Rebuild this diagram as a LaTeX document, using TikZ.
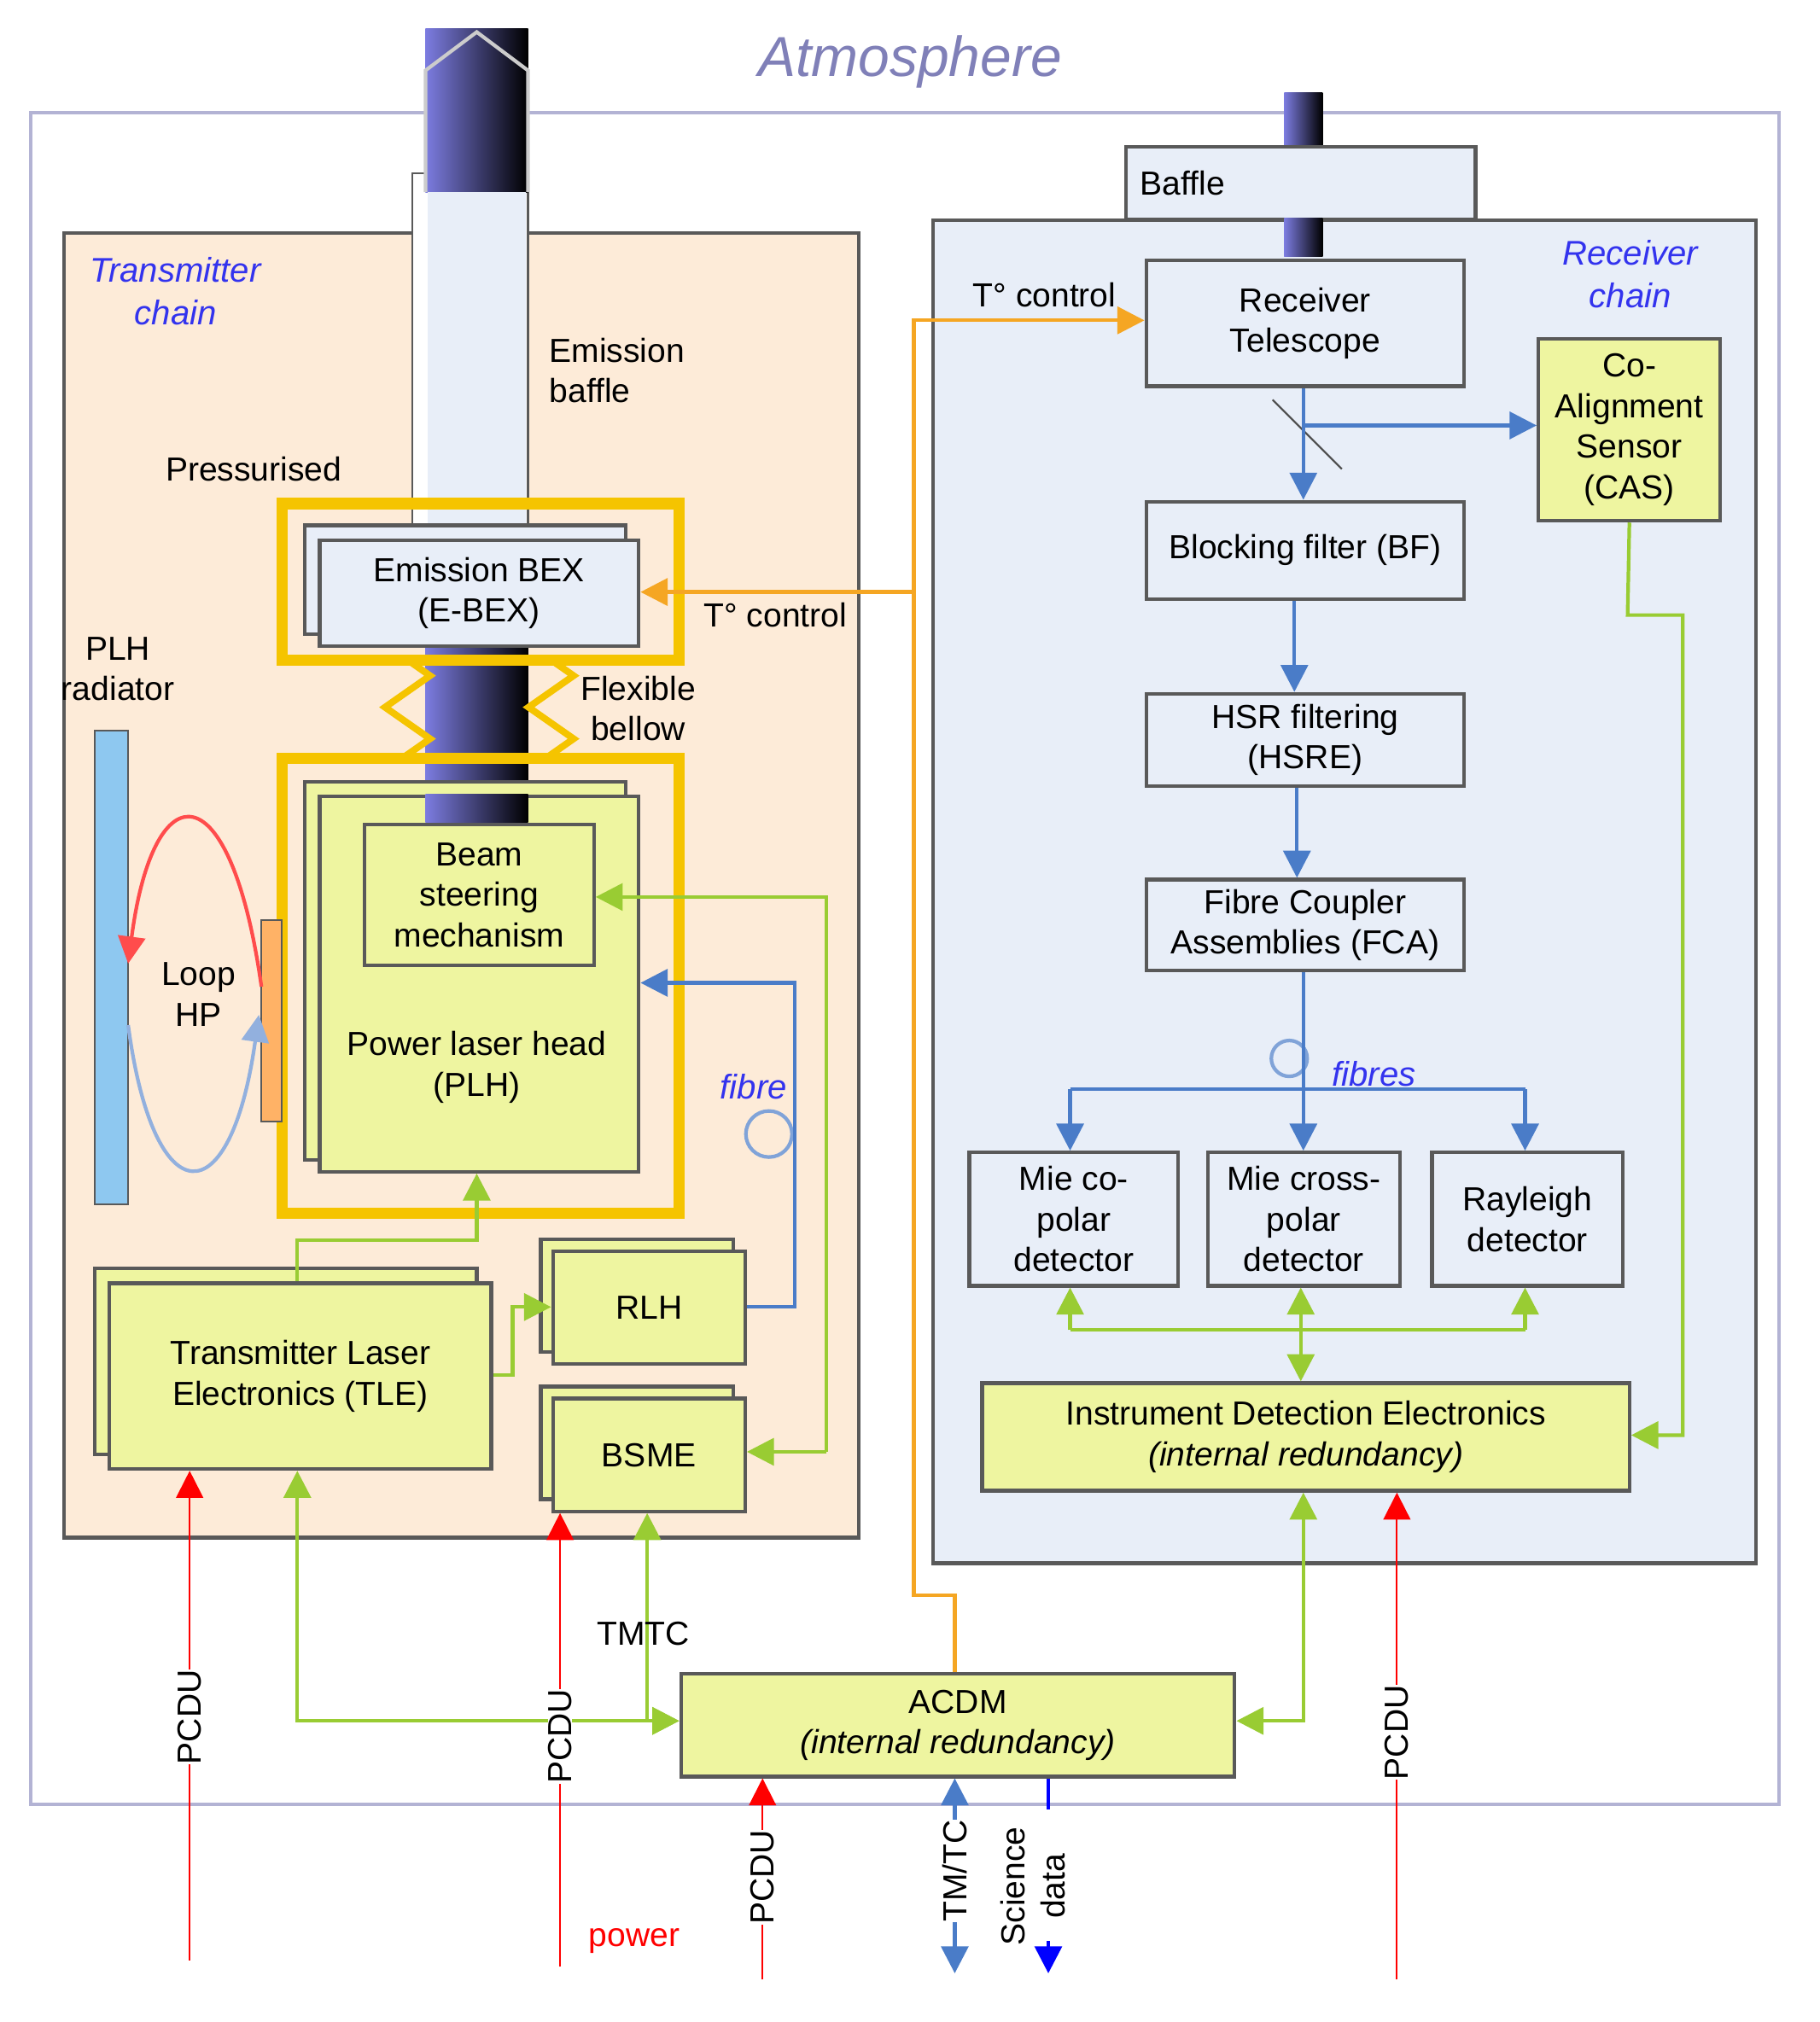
\documentclass[tikz,border=0pt]{standalone}
\usepackage{fontspec}
\setmainfont{Liberation Sans}
\usetikzlibrary{arrows.meta,decorations.pathmorphing}
\definecolor{peach}{HTML}{FDEBD8}
\definecolor{rx}{HTML}{E8EEF8}
\definecolor{yg}{HTML}{EEF5A0}
\definecolor{gline}{HTML}{99CC33}
\definecolor{bline}{HTML}{4A7CC8}
\definecolor{oline}{HTML}{F5A623}
\definecolor{gold}{HTML}{F5C400}
\definecolor{ttl}{HTML}{3333EE}
\definecolor{beam}{HTML}{7C7CE0}
\definecolor{atm}{HTML}{8080B8}
\definecolor{rad}{HTML}{8EC8F0}
\begin{document}
\begin{tikzpicture}[x=0.01cm,y=-0.01cm,font=\fontsize{7.4}{9}\selectfont,
 sz/.style 2 args={minimum width=#1*0.01cm,minimum height=#2*0.01cm,anchor=north west},
 box/.style={draw=gray!70!black,thick,align=center,inner sep=0pt},
 bx/.style={box,fill=rx},
 yb/.style={box,fill=yg},
 g/.style={gline,thick,-{Triangle[length=6pt,width=6pt]}},
 gg/.style={gline,thick,{Triangle[length=6pt,width=6pt]}-{Triangle[length=6pt,width=6pt]}},
 b/.style={bline,thick,-{Triangle[length=6pt,width=6pt]}},
 o/.style={oline,thick,-{Triangle[length=6pt,width=6pt]}},
 r/.style={red,thin,-{Triangle[length=6pt,width=6pt]}},
 lab/.style={align=center,inner sep=0pt},
 ch/.style={lab,text=ttl,font=\fontsize{7.6}{9.5}\selectfont\itshape}]
\useasboundingbox (0,0) rectangle (1420,1578);
\node[lab,text=atm,font=\fontsize{12.5}{14}\selectfont\itshape] (atm) at (710,48) {Atmosphere};
\draw[atm!60,thick] (24,88) rectangle (1388,1408);
\draw[gray!70!black,thick,fill=peach] (50,182) rectangle (670,1200);
\draw[gray!70!black,thick,fill=rx] (728,172) rectangle (1370,1220);
% receiver beam & baffle
\shade[left color=beam,right color=black] (1002,72) rectangle (1032,200);
\node[bx,sz={273}{57},text width=2.5cm,align=left] (baf) at (877,113) {Baffle};
\shade[left color=beam,right color=black] (1002,170) rectangle (1032,200);
% emission baffle
\draw[gray!70!black,fill=white] (322,135) rectangle (412,420);
\shade[left color=beam,right color=black] (332,22) rectangle (412,150);
\draw[gray!40,thick] (332,150)--(332,55)--(372,25)--(412,55)--(412,150);
\fill[rx] (334,150) rectangle (410,420);
\shade[left color=beam,right color=black] (332,505) rectangle (412,642);
\fill[black!85] (360,752) rectangle (385,790);
% texts transmitter
\node[ch] (tc) at (137,227) {Transmitter\\chain};
\node[lab,align=left,anchor=west] (eb) at (428,289) {Emission\\baffle};
\node[lab] (pr) at (198,366) {Pressurised};
\node[lab] (plhr) at (92,522) {PLH\\radiator};
\node[lab] (fb) at (498,553) {Flexible\\bellow};
\node[lab] (tc1) at (605,480) {T° control};
\node[lab] (tc2) at (815,230) {T° control};
% EBEX
\draw[bx] (238,410) rectangle (488,495);
\node[bx,sz={249}{83}] (ebex) at (248,420) {Emission BEX\\(E-BEX)};
\draw[gold,line width=2.5pt] (220,393) rectangle (530,515);
% bellows
\foreach \xx in {318,430}
 \draw[gold,line width=1.5pt,decorate,decoration={zigzag,segment length=14,amplitude=5}] (\xx,515)--(\xx,592);
% PLH
\draw[yb] (238,610) rectangle (488,905);
\node[yb,sz={249}{293}] (plh) at (248,620) {};
\node[lab] (plht) at (372,833) {Power laser head\\(PLH)};
\node[yb,sz={179}{110}] (bsm) at (283,642) {Beam\\steering\\mechanism};
\shade[left color=beam,right color=black] (332,620) rectangle (412,642);
\draw[gold,line width=2.5pt] (220,592) rectangle (530,947);
% radiator
\draw[gray!70!black,fill=rad] (74,570) rectangle (100,940);
\draw[gray!70!black,fill=orange!60] (204,718) rectangle (220,875);
\draw[red!70,thick,-{Triangle[length=6pt,width=6pt]}] (204,770) .. controls (180,600) and (120,600) .. (100,752);
\draw[bline!60,thick,-{Triangle[length=6pt,width=6pt]}] (100,800) .. controls (120,950) and (180,950) .. (202,792);
\node[lab] (lhp) at (155,776) {Loop\\HP};
% TLE RLH BSME
\draw[yb] (74,990) rectangle (372,1135);
\node[yb,sz={298}{145}] (tle) at (84,1000) {Transmitter Laser\\Electronics (TLE)};
\draw[yb] (422,967) rectangle (572,1055);
\node[yb,sz={150}{88}] (rlh) at (430,975) {RLH};
\draw[yb] (422,1082) rectangle (572,1170);
\node[yb,sz={150}{88}] (bsme) at (430,1090) {BSME};
\node[lab,text=ttl,font=\fontsize{7.6}{9}\selectfont\itshape] (fib) at (588,848) {fibre};
\draw[bline!70,thick] (600,885) circle (18);
% receiver boxes
\node[ch] (rc) at (1272,214) {Receiver\\chain};
\node[bx,sz={248}{98}] (rt) at (893,202) {Receiver\\Telescope};
\node[yb,sz={142}{142}] (cas) at (1199,263) {Co-\\Alignment\\Sensor\\(CAS)};
\node[bx,sz={248}{76}] (bf) at (893,390) {Blocking filter (BF)};
\node[bx,sz={248}{72}] (hsr) at (893,540) {HSR filtering\\(HSRE)};
\node[bx,sz={248}{71}] (fca) at (893,685) {Fibre Coupler\\Assemblies (FCA)};
\node[bx,sz={163}{104}] (mco) at (755,898) {Mie co-\\polar\\detector};
\node[bx,sz={150}{104}] (mcr) at (941,898) {Mie cross-\\polar\\detector};
\node[bx,sz={149}{104}] (ray) at (1116,898) {Rayleigh\\detector};
\node[yb,sz={505}{84}] (ide) at (765,1078) {Instrument Detection Electronics\\\textit{(internal redundancy)}};
\node[yb,sz={432}{80}] (acdm) at (530,1305) {ACDM\\\textit{(internal redundancy)}};
\draw[gray!60!black] (993,312)--(1047,366);
\node[lab,text=ttl,font=\fontsize{7.6}{9}\selectfont\itshape] (fibs) at (1072,838) {fibres};
\draw[bline!70,thick] (1006,826) circle (14);
% blue receiver connectors
\draw[b] (rt.south -| 1017,0) -- (bf.north -| 1017,0);
\coordinate (c1) at (1017,332);
\draw[b] (c1) -- (cas.west |- c1);
\draw[b] (bf.south -| 1010,0) -- (hsr.north -| 1010,0);
\draw[b] (hsr.south -| 1012,0) -- (fca.north -| 1012,0);
\draw[b] (fca.south -| 1017,0) -- (mcr.north -| 1017,0);
\coordinate (c2) at (835,850); \coordinate (c3) at (1190,850);
\draw[b] (c2) -- (mco.north -| c2);
\draw[b] (c3) -- (ray.north -| c3);
\draw[bline,thick] (c2) -- (c3);
% green receiver connectors
\draw[g] (cas.south) -- (1270,480) -- (1313,480) -- (1313,1120) -- (ide.east |- 0,1120);
\coordinate (d1) at (835,1038); \coordinate (d3) at (1190,1038);
\draw[gline,thick] (d1)--(d3);
\draw[g] (d1) -- (mco.south -| d1);
\draw[g] (d3) -- (ray.south -| d3);
\draw[gg] (mcr.south -| 1015,0) -- (ide.north -| 1015,0);
\draw[gg] (ide.south -| 1017,0) -- (1017,1343) -- (acdm.east |- 0,1343);
% green transmitter
\draw[gg] (tle.south -| 232,0) -- (232,1343) -- (acdm.west |- 0,1343);
\draw[gg] (bsme.south -| 505,0) -- (505,1343) -- (acdm.west |- 0,1343);
\node[lab] (tmtc) at (502,1275) {TMTC};
\draw[g] (tle.north -| 232,0) -- (232,968) -- (372,968) -- (plh.south -| 372,0);
\draw[g] (tle.east |- 0,1073) -- (400,1073) -- (400,1020) -- (rlh.west |- 0,1020);
\draw[g] (645,1133) -- (bsme.east |- 0,1133);
\draw[g] (645,1133) -- (645,700) -- (bsm.east |- 0,700);
\draw[b] (rlh.east |- 0,1020) -- (620,1020) -- (620,767) -- (plh.east |- 0,767);
% orange
\draw[o] (acdm.north -| 745,0) -- (745,1245) -- (713,1245) -- (713,250) -- (rt.west |- 0,250);
\draw[o] (713,462) -- (ebex.east |- 0,462);
% red PCDU
\coordinate (p1) at (148,1530); \coordinate (p2) at (437,1535);
\coordinate (p3) at (595,1545); \coordinate (p4) at (1090,1545);
\draw[r] (p1) -- (tle.south -| p1);
\draw[r] (p2) -- (bsme.south -| p2);
\draw[r] (p3) -- (acdm.south -| p3);
\draw[r] (p4) -- (ide.south -| p4);
\node[lab,rotate=90,fill=white] (q1) at (148,1340) {PCDU};
\node[lab,rotate=90,fill=white] (q2) at (437,1355) {PCDU};
\node[lab,rotate=90,fill=white] (q3) at (595,1465) {PCDU};
\node[lab,rotate=90,fill=white] (q4) at (1090,1352) {PCDU};
\node[lab,text=red] (pw) at (495,1515) {power};
% TM/TC, science
\coordinate (t1) at (745,1540); \coordinate (s1) at (818,1540);
\draw[bline,thick,{Triangle[length=6pt,width=6pt]}-{Triangle[length=6pt,width=6pt]}] (acdm.south -| t1) -- (t1);
\node[lab,rotate=90,fill=white] (tm) at (745,1460) {TM/TC};
\node[lab,rotate=90] (sd) at (806,1472) {Science\\data};
\coordinate (s0) at (818,1412); \coordinate (s2) at (818,1515);
\draw[blue,thick] (acdm.south -| s1) -- (s0);
\draw[b,blue] (s2) -- (s1);
\end{tikzpicture}
\end{document}
